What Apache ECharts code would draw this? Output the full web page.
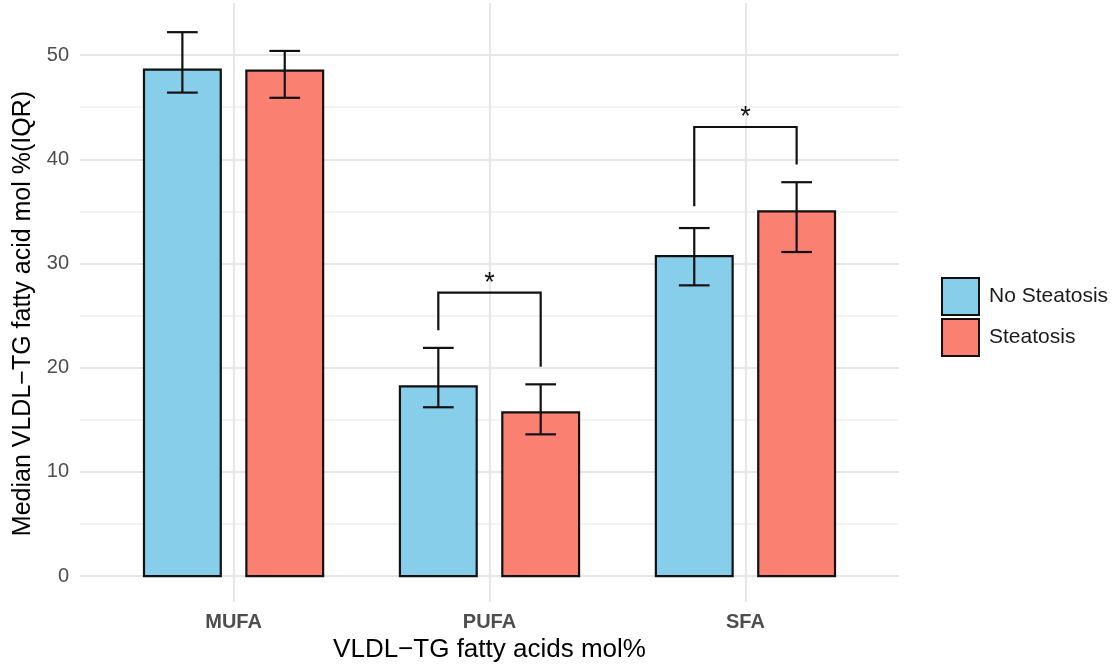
<!DOCTYPE html>
<html>
<head>
<meta charset="utf-8">
<script src="https://cdn.jsdelivr.net/npm/echarts@6/dist/echarts.min.js"></script>
<style>
  html, body { margin: 0; padding: 0; background: #fff; }
  #chart { width: 1115px; height: 668px; }
</style>
</head>
<body>
<div id="chart"></div>
<script>
// 数据
const categories = ['MUFA', 'PUFA', 'SFA'];
const noSteatosisMedian = [48.6, 18.2, 30.7];
const noSteatosisQ1 = [46.4, 16.2, 27.9];
const noSteatosisQ3 = [52.2, 21.9, 33.4];
const steatosisMedian = [48.5, 15.7, 35.0];
const steatosisQ1 = [45.9, 13.6, 31.1];
const steatosisQ3 = [50.4, 18.4, 37.8];

// significance brackets
const sigCategories = ['PUFA', 'SFA'];
const sigLabels = ['*', '*'];
const bracketTop = [27.2, 43.1];
const bracketLeftEnd = [23.6, 35.5];
const bracketRightEnd = [20.1, 39.5];

const DODGE = 0.2;
const BAR_HALF = 0.15;
const CAP_HALF = 0.06;
const FONT = '"Liberation Sans", Arial, Helvetica, sans-serif';

function barData(medians, q1, q3, offset) {
    return medians.map((m, i) => [i + 1 + offset, m, q1[i], q3[i]]);
}

const noData = barData(noSteatosisMedian, noSteatosisQ1, noSteatosisQ3, -DODGE);
const stData = barData(steatosisMedian, steatosisQ1, steatosisQ3, DODGE);

const bracketData = sigCategories.map((c, i) => {
    const idx = categories.indexOf(c) + 1;
    return [idx - DODGE, idx + DODGE, bracketTop[i], bracketLeftEnd[i], bracketRightEnd[i], sigLabels[i]];
});

function renderBar(params, api) {
    const x = api.value(0), v = api.value(1);
    const p0 = api.coord([x - BAR_HALF, v]);
    const p1 = api.coord([x + BAR_HALF, 0]);
    return {
        type: 'rect',
        shape: { x: p0[0], y: p0[1], width: p1[0] - p0[0], height: p1[1] - p0[1] },
        style: { fill: api.visual('color'), stroke: '#111', lineWidth: 2.2 }
    };
}

function renderError(params, api) {
    const x = api.value(0), lo = api.value(2), hi = api.value(3);
    const a = api.coord([x, lo]), b = api.coord([x, hi]);
    const cl = api.coord([x - CAP_HALF, lo]), cr = api.coord([x + CAP_HALF, lo]);
    const hl = api.coord([x - CAP_HALF, hi]), hr = api.coord([x + CAP_HALF, hi]);
    const st = { stroke: '#111', lineWidth: 2.2 };
    return {
        type: 'group',
        children: [
            { type: 'line', shape: { x1: a[0], y1: a[1], x2: b[0], y2: b[1] }, style: st },
            { type: 'line', shape: { x1: cl[0], y1: cl[1], x2: cr[0], y2: cr[1] }, style: st },
            { type: 'line', shape: { x1: hl[0], y1: hl[1], x2: hr[0], y2: hr[1] }, style: st }
        ]
    };
}

function renderBracket(params, api) {
    const x1 = api.value(0), x2 = api.value(1), top = api.value(2);
    const pts = [
        api.coord([x1, api.value(3)]),
        api.coord([x1, top]),
        api.coord([x2, top]),
        api.coord([x2, api.value(4)])
    ];
    const mid = api.coord([(x1 + x2) / 2, top]);
    return {
        type: 'group',
        children: [
            { type: 'polyline', shape: { points: pts }, style: { stroke: '#111', lineWidth: 2.2, fill: null } },
            {
                type: 'text',
                x: mid[0], y: mid[1] + 4,
                style: {
                    text: api.value(5), fill: '#111', font: '27px ' + FONT,
                    align: 'center', verticalAlign: 'bottom'
                }
            }
        ]
    };
}

const options = {
    animation: false,
    backgroundColor: '#fff',
    grid: { left: 80, width: 819, top: 3, height: 601.5 },
    legend: {
        data: ['No Steatosis', 'Steatosis'],
        orient: 'vertical',
        left: 936,
        top: 272,
        icon: 'rect',
        itemWidth: 37,
        itemHeight: 37,
        itemGap: 2,
        itemStyle: { borderColor: '#111', borderWidth: 2 },
        textStyle: { fontSize: 21, color: '#1a1a1a', fontFamily: FONT, padding: [0, 0, 0, 5] }
    },
    xAxis: {
        type: 'value',
        min: 0.4,
        max: 3.6,
        interval: 0.2,
        name: 'VLDL\u2212TG fatty acids mol%',
        nameLocation: 'middle',
        nameGap: 32,
        nameTextStyle: { fontSize: 26, color: '#000', fontFamily: FONT },
        axisLine: { show: false },
        axisTick: { show: false },
        axisLabel: {
            margin: 10,
            fontSize: 20,
            fontWeight: 'bold',
            color: '#4d4d4d',
            fontFamily: FONT,
            formatter: v => {
                const r = Math.round(v);
                return Math.abs(v - r) < 1e-6 && r >= 1 && r <= categories.length ? categories[r - 1] : '';
            }
        },
        splitLine: {
            show: true,
            lineStyle: {
                color: ['rgba(0,0,0,0)', 'rgba(0,0,0,0)', 'rgba(0,0,0,0)', '#e6e6e6', 'rgba(0,0,0,0)'],
                width: 2
            }
        }
    },
    yAxis: {
        type: 'value',
        min: -2.5,
        max: 55,
        interval: 2.5,
        name: 'Median VLDL\u2212TG fatty acid mol %(IQR)',
        nameLocation: 'middle',
        nameGap: 43,
        nameTextStyle: { fontSize: 25, color: '#000', fontFamily: FONT, padding: [0, 22, 0, 0] },
        axisLine: { show: false },
        axisTick: { show: false },
        axisLabel: {
            margin: 11,
            fontSize: 20,
            color: '#4d4d4d',
            fontFamily: FONT,
            formatter: v => (v >= 0 && Math.abs(v % 10) < 1e-6 ? String(v) : '')
        },
        splitLine: {
            show: true,
            showMaxLine: false,
            lineStyle: {
                color: ['rgba(0,0,0,0)', '#e6e6e6', 'rgba(0,0,0,0)', '#f2f2f2'],
                width: 2
            }
        }
    },
    series: [
        {
            name: 'No Steatosis',
            type: 'custom',
            renderItem: renderBar,
            itemStyle: { color: '#87CEEB', borderColor: '#111', borderWidth: 2 },
            encode: { x: 0, y: 1 },
            data: noData
        },
        {
            name: 'Steatosis',
            type: 'custom',
            renderItem: renderBar,
            itemStyle: { color: '#FA8072', borderColor: '#111', borderWidth: 2 },
            encode: { x: 0, y: 1 },
            data: stData
        },
        {
            name: 'err-no',
            type: 'custom',
            renderItem: renderError,
            encode: { x: 0, y: [2, 3] },
            data: noData
        },
        {
            name: 'err-st',
            type: 'custom',
            renderItem: renderError,
            encode: { x: 0, y: [2, 3] },
            data: stData
        },
        {
            name: 'brackets',
            type: 'custom',
            renderItem: renderBracket,
            encode: { x: [0, 1], y: [2, 3, 4] },
            data: bracketData
        }
    ]
};

const E = echarts.init(document.getElementById('chart'));
window.onresize = function () {
    E.resize();
};
E.setOption(options);
</script>
</body>
</html>
